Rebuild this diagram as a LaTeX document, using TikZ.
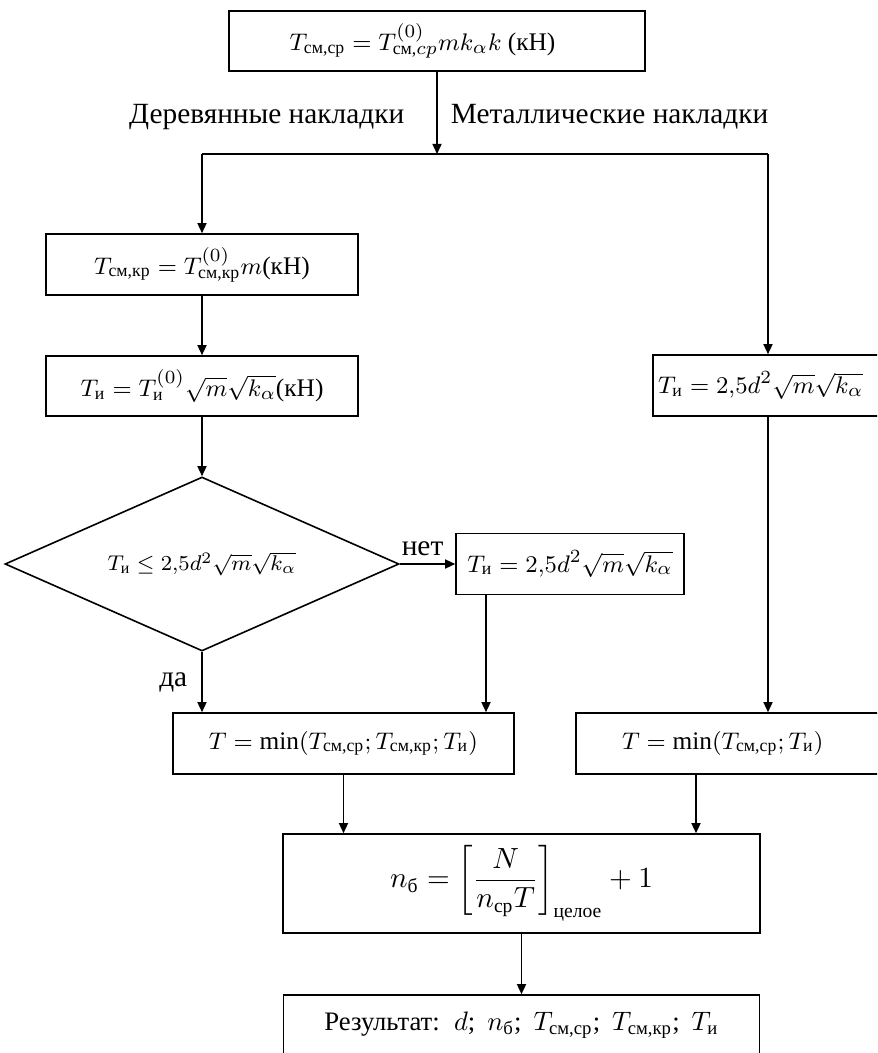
\documentclass[tikz,border=0pt]{standalone}
\usepackage{amsmath}
\usepackage{fontspec}
\IfFontExistsTF{LiberationSerif-Regular.ttf}
  {\setmainfont{LiberationSerif}[Extension=.ttf,UprightFont=*-Regular,
     ItalicFont=*-Italic,BoldFont=*-Bold,BoldItalicFont=*-BoldItalic]}
  {\setmainfont{Liberation Serif}}
\usetikzlibrary{arrows.meta,shapes.geometric}
\newcommand{\tx}[1]{\text{#1}}
\newcommand{\PP}{0.375pt}
\newcommand{\gap}{\hspace{2pt}}
\begin{document}
\begin{tikzpicture}[x=0.375pt,y=-0.375pt,line width=0.6pt,
  arr/.style={-{Triangle[length=3.8pt,width=3.4pt]}},
  box/.style={draw,inner sep=0pt,font=\fontsize{9.5}{11}\selectfont},
  lbl/.style={inner sep=0pt,font=\fontsize{11}{13}\selectfont}]
\useasboundingbox (0,0) rectangle (877,1053);
\clip (0,0) rectangle (877,1053);

% top box
\node[box,minimum width=416*\PP,minimum height=60*\PP] (top) at (437,41)
  {$T_{\tx{см,ср}} = T^{(0)}_{\tx{см,}cp}mk_\alpha k$ (кН)\hspace*{10.9pt}};

\node[lbl,anchor=base east] (lw) at (405,123) {Деревянные накладки};
\node[lbl,anchor=base west] (lm) at (450,123) {Металлические накладки};

\coordinate (j) at (437,154);
\coordinate (jl) at (202,154);
\coordinate (jr) at (768,154);
\coordinate (mx) at (486,0);
\coordinate (ax2) at (696,0);

% left chain
\node[box,minimum width=312*\PP,minimum height=61*\PP] (b2) at (202,264.5)
  {$T_{\tx{см,кр}} = T^{(0)}_{\tx{см,кр}}m$(кН)};
\node[box,minimum width=312*\PP,minimum height=60*\PP] (b3) at (202,386)
  {$T_{\tx{и}} = T^{(0)}_{\tx{и}}\sqrt{m}\sqrt{k_\alpha}$(кН)};
\node[draw,diamond,aspect=2.264,inner sep=0pt,minimum width=394*\PP,
      minimum height=174*\PP,font=\fontsize{8.5}{10}\selectfont] (dia) at (202,564)
  {$T_{\tx{и}} \leq 2{,}5d^2\sqrt{m}\sqrt{k_\alpha}$};
\node[box,minimum width=228*\PP,minimum height=61*\PP] (mid) at (570,564)
  {$T_{\tx{и}} = 2{,}5d^2\sqrt{m}\sqrt{k_\alpha}$};
\node[box,minimum width=341*\PP,minimum height=61*\PP] (tmin) at (343.5,743.5)
  {$T = \min(T_{\tx{см,ср}}; T_{\tx{см,кр}}; T_{\tx{и}})$};

% right chain
\node[box,minimum width=237*\PP,minimum height=61*\PP] (r3) at (771.5,385.5)
  {\makebox[85.1pt][l]{$T_{\tx{и}} = 2{,}5d^2\sqrt{m}\sqrt{k_\alpha}$}};
\node[box,minimum width=314*\PP,minimum height=61*\PP] (rmin) at (733,743.5)
  {\makebox[83.25pt][l]{$T = \min(T_{\tx{см,ср}}; T_{\tx{и}})$}};

% bottom
\node[box,minimum width=477*\PP,minimum height=99*\PP,font=\fontsize{10.5}{12}\selectfont]
  (nb) at (521.5,883.5)
  {$n_{\tx{б}} = \left[\dfrac{N}{n_{\tx{ср}}T}\right]_{\tx{целое}} + 1$};
\node[box,minimum width=476*\PP,minimum height=60*\PP,font=\fontsize{10}{12}\selectfont]
  (res) at (521.5,1025)
  {Результат:\gap{} $d$;\gap{} $n_{\tx{б}}$;\gap{} $T_{\tx{см,ср}}$;\gap{} $T_{\tx{см,кр}}$;\gap{} $T_{\tx{и}}$};

% connectors
\draw[arr] (top.south -| j) -- (j);
\draw (jl) -- (jr);
\draw[arr] (jl) -- (b2.north);
\draw[arr] (b2) -- (b3);
\draw[arr] (b3) -- (dia);
\draw[arr] (dia) -- (mid);
\node[lbl,anchor=base west] (net) at (401,555) {нет};
\draw[arr] (dia.south) -- (tmin.north -| dia.south);
\node[lbl,anchor=base east] (da) at (188,686) {да};
\draw[arr] (mid.south -| mx) -- (tmin.north -| mx);
\draw[arr] (jr) -- (r3.north -| jr);
\draw[arr] (r3.south -| jr) -- (rmin.north -| jr);
\draw[arr] (tmin.south) -- (nb.north -| tmin.south);
\draw[arr] (rmin.south -| ax2) -- (nb.north -| ax2);
\draw[arr] (nb.south -| res.north) -- (res.north);
\end{tikzpicture}
\end{document}
